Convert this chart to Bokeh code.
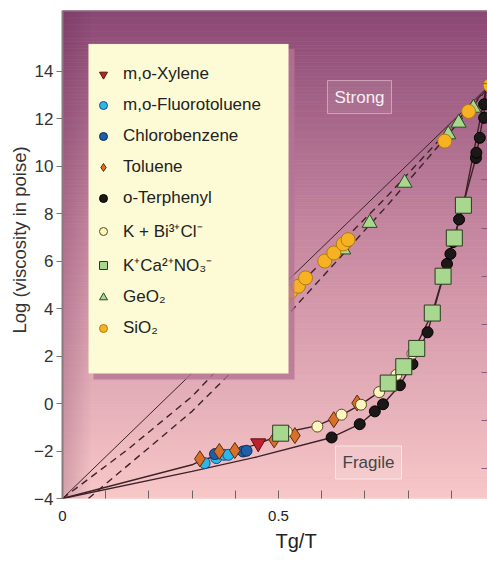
import numpy as np
from bokeh.plotting import figure
from bokeh.models import (Range1d, LinearAxis, FixedTicker, Legend, LegendItem,
                          Label, BoxAnnotation, Title, Span)
from bokeh.embed import file_html
from bokeh.resources import INLINE

# ---------------- data ----------------
xylene_x = [0.453]
xylene_y = [-1.67]
fluoro_x = [0.329, 0.356, 0.374, 0.384]
fluoro_y = [-2.51, -2.30, -2.16, -2.16]
chloro_x = [0.353, 0.418, 0.426]
chloro_y = [-2.13, -2.02, -1.99]
toluene_x = [0.318, 0.363, 0.399, 0.490, 0.538, 0.628, 0.682]
toluene_y = [-2.33, -2.02, -1.98, -1.53, -1.35, -0.68, 0.02]
terph_x = [0.623, 0.688, 0.723, 0.742, 0.781, 0.810, 0.845, 0.890, 0.898, 0.904,
           0.918, 0.957, 0.958, 0.966, 0.976, 0.976]
terph_y = [-1.43, -0.87, -0.33, -0.03, 0.77, 1.66, 3.00, 5.88, 6.30, 6.80,
           7.75, 10.34, 10.56, 11.19, 12.03, 12.60]
kbi_x = [0.519, 0.590, 0.646, 0.691, 0.733, 0.773, 0.810]
kbi_y = [-1.18, -0.97, -0.47, -0.05, 0.48, 1.21, 2.10]
kca_x = [0.505, 0.754, 0.790, 0.820, 0.856, 0.881, 0.907, 0.928]
kca_y = [-1.25, 0.86, 1.55, 2.32, 3.81, 5.36, 6.97, 8.35]
geo2_x = [0.650, 0.711, 0.792, 0.893, 0.917, 0.951]
geo2_y = [6.48, 7.60, 9.29, 11.33, 11.82, 12.45]
sio2_x = [0.499, 0.513, 0.528, 0.546, 0.5625, 0.607, 0.628, 0.650, 0.661, 0.885, 0.940, 0.99]
sio2_y = [4.05, 4.38, 4.70, 4.94, 5.29, 6.00, 6.34, 6.72, 6.90, 11.05, 12.30, 13.40]

# guide curves
strong_x = [0.0, 1.0]
strong_y = [-4.0, 13.6]
dash1_x = [0.0, 0.15, 0.30, 0.48, 0.75, 1.0]
dash1_y = [-4.0, -1.95, 0.30, 3.75, 8.70, 13.6]
dash2_x = [0.06, 0.30, 0.50, 0.75, 1.0]
dash2_y = [-4.0, -0.33, 3.30, 8.30, 13.6]
frag1_x = [0.0, 0.30, 0.32, 0.45, 0.52, 0.59, 0.65, 0.69, 0.733, 0.773, 0.81,
           0.856, 0.881, 0.907, 0.928, 0.981, 1.0]
frag1_y = [-4.0, -2.58, -2.40, -1.72, -1.20, -0.93, -0.45, -0.05, 0.48, 1.21, 2.10,
           3.81, 5.36, 6.97, 8.35, 13.3, 13.6]
frag2_x = [0.0, 0.30, 0.45, 0.623, 0.688, 0.723, 0.742, 0.781, 0.81, 0.845, 0.89,
           0.918, 0.957, 0.976, 0.981, 1.0]
frag2_y = [-4.0, -2.86, -2.25, -1.43, -0.87, -0.33, -0.03, 0.77, 1.66, 3.00, 5.88,
           7.75, 10.34, 12.30, 13.3, 13.6]

y_ticks = [-4, -2, 0, 2, 4, 6, 8, 10, 12, 14]
x_label_ticks = [0.0, 0.5]
x_minor_ticks = [0.1, 0.2, 0.3, 0.4, 0.6, 0.7, 0.8, 0.9]
x_tick_labels = {0.0: "0", 0.5: "0.5"}

FONT = "Liberation Sans"
X_END = 425 / 432.0
Y_START, Y_END = -4.0, 16.55

p = figure(width=487, height=564, output_backend="svg", toolbar_location=None,
           x_range=Range1d(0, X_END), y_range=Range1d(Y_START, Y_END),
           min_border_left=62, min_border_right=0, min_border_top=10,
           min_border_bottom=66, x_axis_location="below")
p.outline_line_color = None
p.grid.visible = False
p.background_fill_color = "#f8c8c8"
p.border_fill_color = "white"

# ---- background gradient (top purple -> bottom pink) ----
stops_pos = np.array([0.0, 0.45, 1.0])
stops_col = np.array([[0x8a, 0x48, 0x74], [0xc5, 0x86, 0xa0], [0xf8, 0xc8, 0xc8]], float)
n = 140
edges = np.linspace(Y_START, Y_END, n + 1)
mids = 0.5 * (edges[:-1] + edges[1:])
t = (Y_END - mids) / (Y_END - Y_START)
cols = []
for tt in t:
    c = [np.interp(tt, stops_pos, stops_col[:, k]) for k in range(3)]
    cols.append("#%02x%02x%02x" % tuple(int(round(v)) for v in c))
p.quad(left=0, right=X_END, bottom=edges[:-1], top=edges[1:], fill_color=cols,
       line_color=cols, line_width=0.6)

# darker shading along the left edge
m = 14
vx = np.linspace(0, 0.07, m + 1)
p.quad(left=vx[:-1], right=vx[1:], bottom=Y_START, top=Y_END, fill_color="#5a1e4a",
       fill_alpha=list(np.linspace(0.22, 0.0, m)), line_color=None)

# ---- guide curves ----
LC = "#3e2229"
p.line(strong_x, strong_y, line_color=LC, line_width=1.0)
p.line(dash1_x, dash1_y, line_color=LC, line_width=1.4, line_dash="7 5")
p.line(dash2_x, dash2_y, line_color=LC, line_width=1.4, line_dash="7 5")
p.line(frag1_x, frag1_y, line_color=LC, line_width=1.4)
p.line(frag2_x, frag2_y, line_color=LC, line_width=1.4)

# ---- legend box (with shadow) ----
def px2x(px):
    return (px - 62) / 432.0

def py2y(py):
    return 14 - (py - 70) / 23.72

p.add_layout(BoxAnnotation(left=px2x(93), right=px2x(294), top=py2y(48), bottom=py2y(378),
                           fill_color="#b57493", fill_alpha=0.8, line_color=None))
p.add_layout(BoxAnnotation(left=px2x(88), right=px2x(288), top=py2y(43), bottom=py2y(372),
                           fill_color="#fdfbd6", fill_alpha=1.0, line_color="#d8c0b8",
                           line_width=1))

# ---- data series ----
r_xyl = p.scatter(xylene_x, xylene_y, marker="inverted_triangle", size=15,
                  fill_color="#c0202e", line_color="#5a1010")
r_flu = p.scatter(fluoro_x, fluoro_y, marker="circle", size=11,
                  fill_color="#2cb6ea", line_color="#1a4a80")
r_chl = p.scatter(chloro_x, chloro_y, marker="circle", size=11,
                  fill_color="#1d5fa8", line_color="#102a50")
r_tol = p.scatter(toluene_x, toluene_y, marker="diamond", size=16,
                  fill_color="#d8702a", line_color="#5a2a10")
r_ter = p.scatter(terph_x, terph_y, marker="circle", size=11,
                  fill_color="#1c1818", line_color="#000000")
r_kbi = p.scatter(kbi_x, kbi_y, marker="circle", size=11,
                  fill_color="#fdf6c0", line_color="#5a4a20")
r_kca = p.scatter(kca_x, kca_y, marker="square", size=16,
                  fill_color="#a8d890", line_color="#2a3a20")
r_geo = p.scatter(geo2_x, geo2_y, marker="triangle", size=15,
                  fill_color="#a8d890", line_color="#2a4a20")
r_sio = p.scatter(sio2_x, sio2_y, marker="circle", size=14,
                  fill_color="#f6b222", line_color="#b07a10")

items = [
    LegendItem(label="m,o-Xylene", renderers=[r_xyl]),
    LegendItem(label="m,o-Fluorotoluene", renderers=[r_flu]),
    LegendItem(label="Chlorobenzene", renderers=[r_chl]),
    LegendItem(label="Toluene", renderers=[r_tol]),
    LegendItem(label="o-Terphenyl", renderers=[r_ter]),
    LegendItem(label="K + Bi³⁺Cl⁻", renderers=[r_kbi]),
    LegendItem(label="K⁺Ca²⁺NO₃⁻", renderers=[r_kca]),
    LegendItem(label="GeO₂", renderers=[r_geo]),
    LegendItem(label="SiO₂", renderers=[r_sio]),
]
legend = Legend(items=items, location=(31, 160), orientation="vertical",
                background_fill_alpha=0, border_line_color=None,
                label_text_font=FONT, label_text_font_size="17px",
                label_text_color="#222222", glyph_height=20, glyph_width=20,
                label_height=20, spacing=11, padding=10, label_standoff=10,
                margin=0)
p.add_layout(legend, "center")

# ---- Strong / Fragile tags ----
p.add_layout(Label(x=px2x(359), y=py2y(96), text="Strong", text_align="center",
                   text_baseline="middle", text_font=FONT, text_font_size="17px",
                   text_color="#f8eef4", background_fill_color="#ffffff",
                   background_fill_alpha=0.08, border_line_color="#d8a8c0",
                   border_line_alpha=0.9, padding=7))
p.add_layout(Label(x=px2x(368), y=py2y(461), text="Fragile", text_align="center",
                   text_baseline="middle", text_font=FONT, text_font_size="17px",
                   text_color="#444444", background_fill_color="#ffffff",
                   background_fill_alpha=0.15, border_line_color="#ffffff",
                   border_line_alpha=0.6, padding=7))

# top frame edge
p.add_layout(Span(location=Y_END, dimension="width", line_color="#8a7a80", line_width=2))

# ---- axes ----
ya = p.yaxis[0]
ya.ticker = FixedTicker(ticks=y_ticks)
ya.major_label_text_font = FONT
ya.major_label_text_font_size = "17px"
ya.major_label_text_color = "#333333"
ya.axis_line_color = "#8a7a80"
ya.axis_line_width = 2
ya.major_tick_line_color = "#777777"
ya.major_tick_out = 6
ya.major_tick_in = 0
ya.minor_tick_line_color = None
ya.major_label_standoff = 3

xa = p.xaxis[0]
xa.ticker = FixedTicker(ticks=x_label_ticks, minor_ticks=x_minor_ticks)
xa.major_label_overrides = x_tick_labels
xa.major_label_text_font = FONT
xa.major_label_text_font_size = "15px"
xa.major_label_text_color = "#222222"
xa.axis_line_color = None
xa.major_tick_line_color = "#666666"
xa.major_tick_in = 8
xa.major_tick_out = 0
xa.minor_tick_line_color = "#666666"
xa.minor_tick_in = 8
xa.minor_tick_out = 0
xa.major_label_standoff = 12

# right-hand inner ticks (secondary scale, unlabeled)
p.extra_y_ranges = {"r": Range1d(-0.62, 9.52)}
ra = LinearAxis(y_range_name="r", ticker=FixedTicker(ticks=[], minor_ticks=list(range(10))),
                major_tick_in=0, major_tick_out=0, major_label_standoff=0,
                axis_line_color=None, major_tick_line_color=None,
                minor_tick_line_color="#8a5a78", minor_tick_in=6, minor_tick_out=0)
p.add_layout(ra, "right")

# axis titles
p.add_layout(Title(text="Log (viscosity in poise)", align="left", offset=165,
                   text_font=FONT, text_font_size="18.5px", text_font_style="normal",
                   text_color="#333333", standoff=4), "left")
p.add_layout(Title(text="Tg/T", align="left", offset=213,
                   text_font=FONT, text_font_size="20px", text_font_style="normal",
                   text_color="#222222", standoff=8), "below")

open("out.html", "w").write(file_html(p, INLINE))
